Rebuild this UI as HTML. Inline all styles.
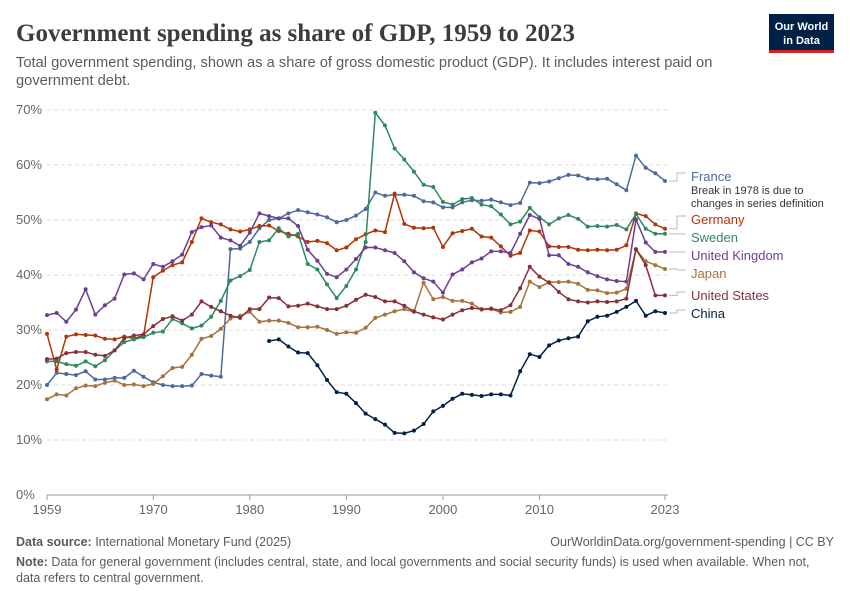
<!DOCTYPE html>
<html><head><meta charset="utf-8">
<style>
body{margin:0;background:#fff;font-family:"Liberation Sans",sans-serif;}
#wrap{position:relative;width:850px;height:600px;overflow:hidden;}
</style></head>
<body>
<div id="wrap">
<svg id="svg" width="850" height="600" xmlns="http://www.w3.org/2000/svg">
<text x="16" y="41" font-family="Liberation Serif,serif" font-size="25" font-weight="bold" fill="#3c3c3c">Government spending as share of GDP, 1959 to 2023</text>
<text x="16" y="67" font-size="14.7" fill="#5b5b5b">Total government spending, shown as a share of gross domestic product (GDP). It includes interest paid on</text>
<text x="16" y="85" font-size="14.7" fill="#5b5b5b">government debt.</text>
<g>
<rect x="769" y="14" width="65" height="38" fill="#002147"/>
<rect x="769" y="50" width="65" height="3" fill="#ce261e"/>
<text x="801.5" y="30" font-size="11" fill="#fff" text-anchor="middle" font-weight="bold">Our World</text>
<text x="801.5" y="44" font-size="11" fill="#fff" text-anchor="middle" font-weight="bold">in Data</text>
</g>
<g id="grid"></g><g id="series"></g><g id="legend"></g>
<text x="16" y="546" font-size="12.5" fill="#5b5b5b"><tspan font-weight="bold">Data source:</tspan> International Monetary Fund (2025)</text>
<text x="834" y="546" font-size="12.5" fill="#5b5b5b" text-anchor="end">OurWorldinData.org/government-spending | CC BY</text>
<text x="16" y="566" font-size="12.5" fill="#5b5b5b"><tspan font-weight="bold">Note:</tspan> Data for general government (includes central, state, and local governments and social security funds) is used when available. When not,</text>
<text x="16" y="582" font-size="12.5" fill="#5b5b5b">data refers to central government.</text>
</svg>
</div>
<script>
const startYear = 1959;
const yTicks = [0,10,20,30,40,50,60,70];
const xTicks = [1959,1970,1980,1990,2000,2010,2023];
const seriesNames = ["France","Germany","Sweden","United Kingdom","Japan","United States","China"];
const france = [20,22.2,22,21.8,22.5,21,21,21.3,21.3,22.6,21.5,20.5,20,19.8,19.8,19.9,22,21.7,21.5,44.7,44.8,46,48.5,50,50.3,51.2,51.8,51.4,51,50.5,49.6,50,50.8,52,55,54.4,54.6,54.6,54.4,53.4,53.2,52.3,52.3,53.2,53.6,53.5,53.7,53.2,52.7,53.1,56.8,56.7,57,57.6,58.2,58.1,57.5,57.4,57.5,56.5,55.4,61.7,59.5,58.5,57.1];
const germany = [29.3,22.8,28.8,29.2,29.1,29,28.4,28.3,28.8,28.5,29,39.6,40.8,41.8,42.3,46,50.3,49.6,49.2,48.3,47.9,48.3,48.9,49,48,47.5,47,46,46.2,45.8,44.5,45,46.5,47.4,48.1,47.8,54.8,49.3,48.6,48.5,48.6,45.1,47.6,48,48.4,47,46.8,45.2,43.5,44,48.1,47.9,45.2,45.1,45.1,44.6,44.5,44.6,44.5,44.6,45.4,51.2,50.7,49.2,48.4];
const sweden = [24.3,24.3,23.8,23.5,24.3,23.4,24.5,26.3,27.8,28.3,28.7,29.5,29.7,32,31.2,30.3,30.8,32.4,35.3,39,39.8,40.9,46,46.3,48.5,47,47.5,42,41,38.3,35.8,38,41,46,69.5,67.2,63,61,58.8,56.4,56,53.3,52.8,53.8,54,52.8,52.5,51,49.2,49.7,52.2,50.5,49.2,50.3,50.9,50.2,48.8,48.9,48.8,49.1,48.3,51.1,48.4,47.5,47.5];
const uk = [32.7,33.1,31.5,33.7,37.4,32.8,34.5,35.7,40.1,40.3,39.2,42,41.5,42.5,43.7,47.8,48.7,49,46.8,46.3,45.3,47.7,51.2,50.7,50.3,50.3,48.9,44.6,42.6,40.2,39.6,41,42.9,45,45,44.5,44,42.5,40.5,39.4,38.8,36.8,40.1,41,42.3,43,44.3,44.3,44,47.5,50.9,50.2,43.6,43.6,42,41.5,40.5,39.8,39.2,38.9,38.8,50.1,45.9,44.2,44.2];
const japan = [17.4,18.3,18.1,19.4,19.9,19.8,20.4,20.8,20,20.1,19.8,20.2,21.6,23.1,23.3,25.5,28.4,28.9,30.2,32.1,32.6,33.3,31.5,31.7,31.7,31.3,30.5,30.5,30.6,30,29.3,29.6,29.5,30.4,32.2,32.8,33.4,33.8,33.3,38.6,35.6,36,35.3,35.3,34.8,33.7,33.8,33.2,33.3,34.2,38.8,37.8,38.7,38.7,38.8,38.4,37.3,37.2,36.7,36.8,37.5,44.6,42.5,41.8,41.1];
const us = [24.7,24.8,25.8,26,26,25.5,25.3,26.3,28.5,29,29.2,30.7,32,32.5,31.7,32.8,35.2,34.2,33.4,32.6,32.2,33.8,33.8,35.9,35.8,34.3,34.4,34.8,34.3,33.8,33.8,34.4,35.5,36.4,36,35.2,35.2,34.4,33.4,32.8,32.3,31.9,32.8,33.6,34,33.8,33.9,33.6,34.5,37.6,41.5,39.7,38.6,36.9,35.6,35.2,35,35.2,35.1,35.2,35.7,44.7,41.8,36.3,36.3];
const china = [null,null,null,null,null,null,null,null,null,null,null,null,null,null,null,null,null,null,null,null,null,null,null,28,28.3,27,25.9,25.8,23.6,20.9,18.7,18.4,16.7,14.8,13.8,12.8,11.3,11.2,11.7,12.9,15.2,16.2,17.5,18.4,18.2,18,18.3,18.3,18.1,22.5,25.6,25.1,27.2,28.1,28.5,28.8,31.6,32.4,32.6,33.3,34.2,35.3,32.6,33.4,33.1];
const allSeries = [france,germany,sweden,uk,japan,us,china];
const colors = ["#4c6a9c","#b13507","#2d8a5f","#6d3e91","#a2743c","#883039","#002147"];
const labelY = [177,220,238,256,274,296,314];

const x = yr => 47 + (yr-1959)*(618/64);
const y = v => 495 - v*5.5;
const NS="http://www.w3.org/2000/svg";
function mk(tag, attrs, parent){const e=document.createElementNS(NS,tag);for(const k in attrs)e.setAttribute(k,attrs[k]);parent.appendChild(e);return e;}
const grid=document.getElementById('grid');
yTicks.forEach(t=>{
  const l=mk('line',{x1:47,x2:668,y1:y(t),y2:y(t),stroke:t===0?'#999':'#ddd','stroke-dasharray':t===0?'':'4,3'},grid);
  
  
  const tx=mk('text',{x:16,y:y(t)+4,'font-size':13,fill:'#666'},grid);
  tx.textContent=t+'%';
  
  
});
xTicks.forEach(t=>{
  const l=mk('line',{x1:x(t),x2:x(t),y1:495,y2:500,stroke:'#999'},grid);
  
  
  const tx=mk('text',{x:x(t),y:514,'font-size':13,fill:'#666','text-anchor':'middle'},grid);
  tx.textContent=t;
  
  
});
const sg=document.getElementById('series');
const lg=document.getElementById('legend');
allSeries.forEach((s,i)=>{
  const g=mk('g',{},sg);
  
  
  let d='';let pen=false;
  s.forEach((v,j)=>{if(v==null){pen=false;return;}d+=(pen?'L':'M')+x(startYear+j).toFixed(1)+','+y(v).toFixed(1);pen=true;});
  mk('path',{d:d,fill:'none',stroke:colors[i],'stroke-width':1.5},g);
  s.forEach((v,j)=>{if(v==null)return;
    const c=mk('circle',{cx:x(startYear+j),cy:y(v),r:2,fill:colors[i]},g);
    
    
  });
  const last=s[s.length-1];
  const cn=mk('path',{d:`M${x(2023)+4},${y(last)}H677V${labelY[i]-4}H686`,fill:'none',stroke:'#bbb','stroke-width':1},lg);
  
  
  const t=mk('text',{x:691,y:labelY[i]+4,'font-size':13,fill:colors[i]},lg);
  t.textContent=seriesNames[i];
  
  
});
const n1=mk('text',{x:691,y:194,'font-size':11,fill:'#333'},lg);
n1.textContent='Break in 1978 is due to';


const n2=mk('text',{x:691,y:207,'font-size':11,fill:'#333'},lg);
n2.textContent='changes in series definition';


</script>
</body></html>
